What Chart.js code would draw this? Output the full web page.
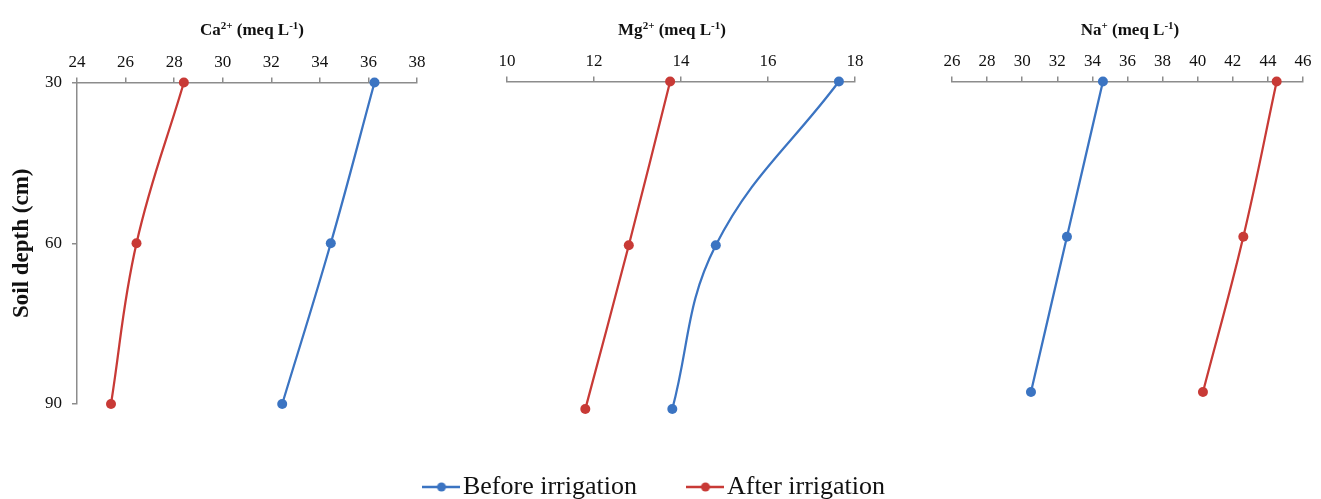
<!DOCTYPE html>
<html>
<head>
<meta charset="utf-8">
<script src="https://cdn.jsdelivr.net/npm/chart.js@4.4.0/dist/chart.umd.min.js"></script>
<style>
    html, body { margin: 0; padding: 0; background: #fff; overflow: hidden; }
    #wrap { position: relative; width: 1321px; height: 499px; overflow: hidden; background: #fff; }
    #wrap canvas { position: absolute; top: 0; }
    .ttl { position: absolute; top: 18px; width: 240px; text-align: center; font: bold 17px "Liberation Serif", serif; color: #111; line-height: 24px; white-space: nowrap; }
    .ttl sup { font-size: 11px; vertical-align: 6px; line-height: 0; }
</style>
</head>
<body>
<div id="wrap">
    <canvas id="caChart" width="440" height="440" style="left:0px"></canvas>
    <canvas id="naChart" width="441" height="440" style="left:880px"></canvas>
    <canvas id="mgChart" width="600" height="510" style="left:359px"></canvas>
    <div class="ttl" style="left:132px">Ca<sup>2+</sup> (meq L<sup>-1</sup>)</div>
    <div class="ttl" style="left:552px">Mg<sup>2+</sup> (meq L<sup>-1</sup>)</div>
    <div class="ttl" style="left:1010px">Na<sup>+</sup> (meq L<sup>-1</sup>)</div>
</div>
<script>
// Datos
const depths = [30, 60, 90];
const depthTicks = [30, 60, 90];

const caBefore = [36.25, 34.45, 32.45];
const caAfter = [28.4, 26.45, 25.4];
const mgBefore = [17.63, 14.8, 13.8];
const mgAfter = [13.75, 12.8, 11.8];
const naBefore = [34.6, 32.55, 30.5];
const naAfter = [44.5, 42.6, 40.3];

const caTicks = [24, 26, 28, 30, 32, 34, 36, 38];
const mgTicks = [10, 12, 14, 16, 18];
const naTicks = [26, 28, 30, 32, 34, 36, 38, 40, 42, 44, 46];

const seriesNames = ['Before irrigation', 'After irrigation'];

const BLUE = '#3b74c2';
const RED = '#c83a36';
const AXIS = '#8c8c8c';
const tickFont = { family: 'Liberation Serif', size: 17 };

function pts(vals) {
    return vals.map((v, i) => ({ x: v, y: depths[i] }));
}

function series(label, vals, color) {
    return {
        label: label,
        data: pts(vals),
        borderColor: color,
        backgroundColor: color,
        pointBackgroundColor: color,
        borderWidth: 2.25,
        pointRadius: 5,
        pointBorderWidth: 0,
        tension: 0.4,
        clip: false
    };
}

function xScale(ticks, h) {
    return {
        type: 'linear',
        position: 'top',
        min: ticks[0],
        max: ticks[ticks.length - 1],
        ticks: { stepSize: ticks[1] - ticks[0], autoSkip: false, maxRotation: 0, padding: 5, color: '#111', font: tickFont },
        grid: { drawOnChartArea: false, tickLength: 5, color: AXIS, tickColor: AXIS, lineWidth: 1.5 },
        border: { color: AXIS, width: 1.5 },
        afterFit: s => { s.height = h; }
    };
}

function hiddenAxis(pos, w, max) {
    return {
        type: 'linear',
        position: pos,
        reverse: true,
        min: depthTicks[0],
        max: max,
        ticks: { display: false },
        grid: { display: false },
        border: { display: false },
        afterFit: s => { s.width = w; }
    };
}

function baseOptions() {
    return {
        responsive: false,
        animation: false,
        devicePixelRatio: 1,
        indexAxis: 'y',
        plugins: { legend: { display: false }, tooltip: { enabled: false } }
    };
}

// Marca de leyenda: línea con punto
function legendMark(color) {
    const c = document.createElement('canvas');
    c.width = 38;
    c.height = 12;
    const g = c.getContext('2d');
    g.strokeStyle = color;
    g.lineWidth = 2.5;
    g.beginPath(); g.moveTo(0, 6); g.lineTo(38, 6); g.stroke();
    g.fillStyle = color;
    g.beginPath(); g.arc(19, 6, 4.5, 0, Math.PI * 2); g.fill();
    return c;
}
const marks = [legendMark(BLUE), legendMark(RED)];

// Ca
const caOpts = baseOptions();
caOpts.layout = { padding: { left: 0, top: 0, right: 23, bottom: 36 } };
caOpts.scales = {
    x: xScale(caTicks, 82.5),
    y: {
        type: 'linear',
        position: 'left',
        reverse: true,
        min: depthTicks[0],
        max: depthTicks[depthTicks.length - 1],
        ticks: { stepSize: 30, padding: 10, color: '#111', font: tickFont },
        grid: { drawOnChartArea: false, tickLength: 5, color: AXIS, tickColor: AXIS, lineWidth: 1.5 },
        border: { color: AXIS, width: 1.5 },
        title: {
            display: true,
            text: 'Soil depth (cm)',
            color: '#111',
            font: { family: 'Liberation Serif', size: 23, weight: 'bold' },
            padding: { top: 8, bottom: 0 }
        },
        afterFit: s => { s.width = 77; }
    }
};
new Chart(document.getElementById('caChart'), {
    type: 'line',
    data: { datasets: [series(seriesNames[0], caBefore, BLUE), series(seriesNames[1], caAfter, RED)] },
    options: caOpts
});

// Na
const naOpts = baseOptions();
naOpts.layout = { padding: { left: 72, top: 0, right: 18, bottom: 48 } };
naOpts.scales = {
    x: xScale(naTicks, 81.5),
    y: { type: 'linear', display: false, reverse: true, min: depthTicks[0], max: depthTicks[depthTicks.length - 1] }
};
new Chart(document.getElementById('naChart'), {
    type: 'line',
    data: { datasets: [series(seriesNames[0], naBefore, BLUE), series(seriesNames[1], naAfter, RED)] },
    options: naOpts
});

// Mg (lleva la leyenda)
const mgOpts = baseOptions();
mgOpts.layout = { padding: 0 };
mgOpts.scales = {
    x: xScale(mgTicks, 81.5),
    y: hiddenAxis('left', 148, 90.9),
    y2: hiddenAxis('right', 104, 90.9)
};
mgOpts.plugins.legend = {
    display: true,
    position: 'bottom',
    labels: {
        usePointStyle: true,
        pointStyleWidth: 17,
        padding: 60,
        color: '#111',
        font: { family: 'Liberation Serif', size: 26 },
        generateLabels: chart => Chart.defaults.plugins.legend.labels.generateLabels(chart)
            .map((item, i) => Object.assign(item, { pointStyle: marks[i] }))
    }
};
new Chart(document.getElementById('mgChart'), {
    type: 'line',
    data: { datasets: [series(seriesNames[0], mgBefore, BLUE), series(seriesNames[1], mgAfter, RED)] },
    options: mgOpts
});
</script>
</body>
</html>
